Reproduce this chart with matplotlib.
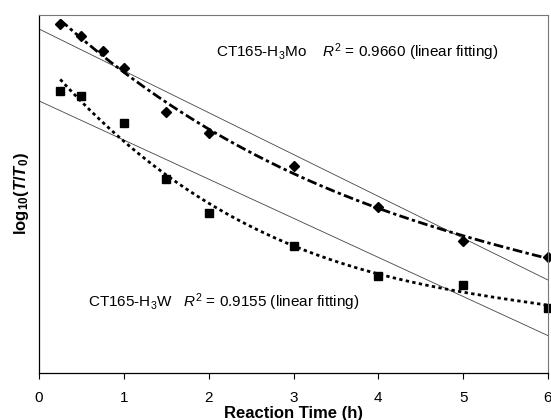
import numpy as np
import matplotlib
matplotlib.use("Agg")
import matplotlib.pyplot as plt

plt.rcParams['font.family'] = ['Liberation Sans', 'DejaVu Sans']
plt.rcParams['mathtext.fontset'] = 'custom'
plt.rcParams['mathtext.rm'] = 'Liberation Sans'
plt.rcParams['mathtext.it'] = 'Liberation Sans:italic'
plt.rcParams['mathtext.bf'] = 'Liberation Sans:bold'
plt.rcParams['mathtext.sf'] = 'Liberation Sans:italic:bold'

# Data (log10(T/T0), arbitrary offset)
mo_time = [0.25, 0.5, 0.75, 1, 1.5, 2, 3, 4, 5, 6]
mo_vals = [3.49, 3.37, 3.223, 3.053, 2.61, 2.40, 2.07, 1.66, 1.323, 1.163]
w_time = [0.25, 0.5, 1, 1.5, 2, 3, 4, 5, 6]
w_vals = [2.823, 2.767, 2.50, 1.94, 1.597, 1.273, 0.967, 0.88, 0.647]
xticks = [0, 1, 2, 3, 4, 5, 6]

fig = plt.figure(figsize=(5.51, 4.20), dpi=100)
ax = fig.add_axes([39/551, 47/420, 509/551, 358/420])

tt = np.linspace(0, 6, 200)
# linear fits
for xs, ys in ((mo_time, mo_vals), (w_time, w_vals)):
    p = np.polyfit(xs, ys, 1)
    ax.plot(tt, np.polyval(p, tt), color='#444444', lw=0.6)

tc = np.linspace(0.25, 6, 200)
pm = np.polyfit(mo_time, mo_vals, 3)
ax.plot(tc, np.polyval(pm, tc), color='black', lw=2.0, dashes=(3.5, 1.2, 1.2, 1.2))
pw = np.polyfit(w_time, w_vals, 3)
ax.plot(tc, np.polyval(pw, tc), color='black', lw=2.0, dashes=(1.2, 1.2))

ax.plot(mo_time, mo_vals, 'D', color='black', ms=5, clip_on=False)
ax.plot(w_time, w_vals, 's', color='black', ms=6, clip_on=False)

ax.text(2.09, 3.21, 'CT165-H$_3$Mo    $R^2$ = 0.9660 (linear fitting)',
        fontsize=11, va='center', ha='left')
ax.text(0.58, 0.71, 'CT165-H$_3$W   $R^2$ = 0.9155 (linear fitting)',
        fontsize=11, va='center', ha='left')

ax.set_xlim(0, 6)
ax.set_ylim(0, 3.58)
ax.set_xticks(xticks)
ax.set_xticklabels([str(v) for v in xticks], fontsize=11)
ax.set_yticks([])
ax.tick_params(axis='x', direction='out', length=4, width=0.8, pad=9)
for s in ('top', 'right'):
    ax.spines[s].set_color('#777777')
    ax.spines[s].set_linewidth(0.8)
for s in ('left', 'bottom'):
    ax.spines[s].set_linewidth(0.9)

ax.set_xlabel('Reaction Time (h)', fontsize=12, fontweight='bold', labelpad=1)
ax.set_ylabel(r'$\mathbf{log}_{\mathbf{10}}\mathbf{(}\mathsf{T}\mathbf{/}\mathsf{T}_{\mathbf{0}}\mathbf{)}$',
              fontsize=12, labelpad=6)

fig.savefig('out.png', dpi=100)
